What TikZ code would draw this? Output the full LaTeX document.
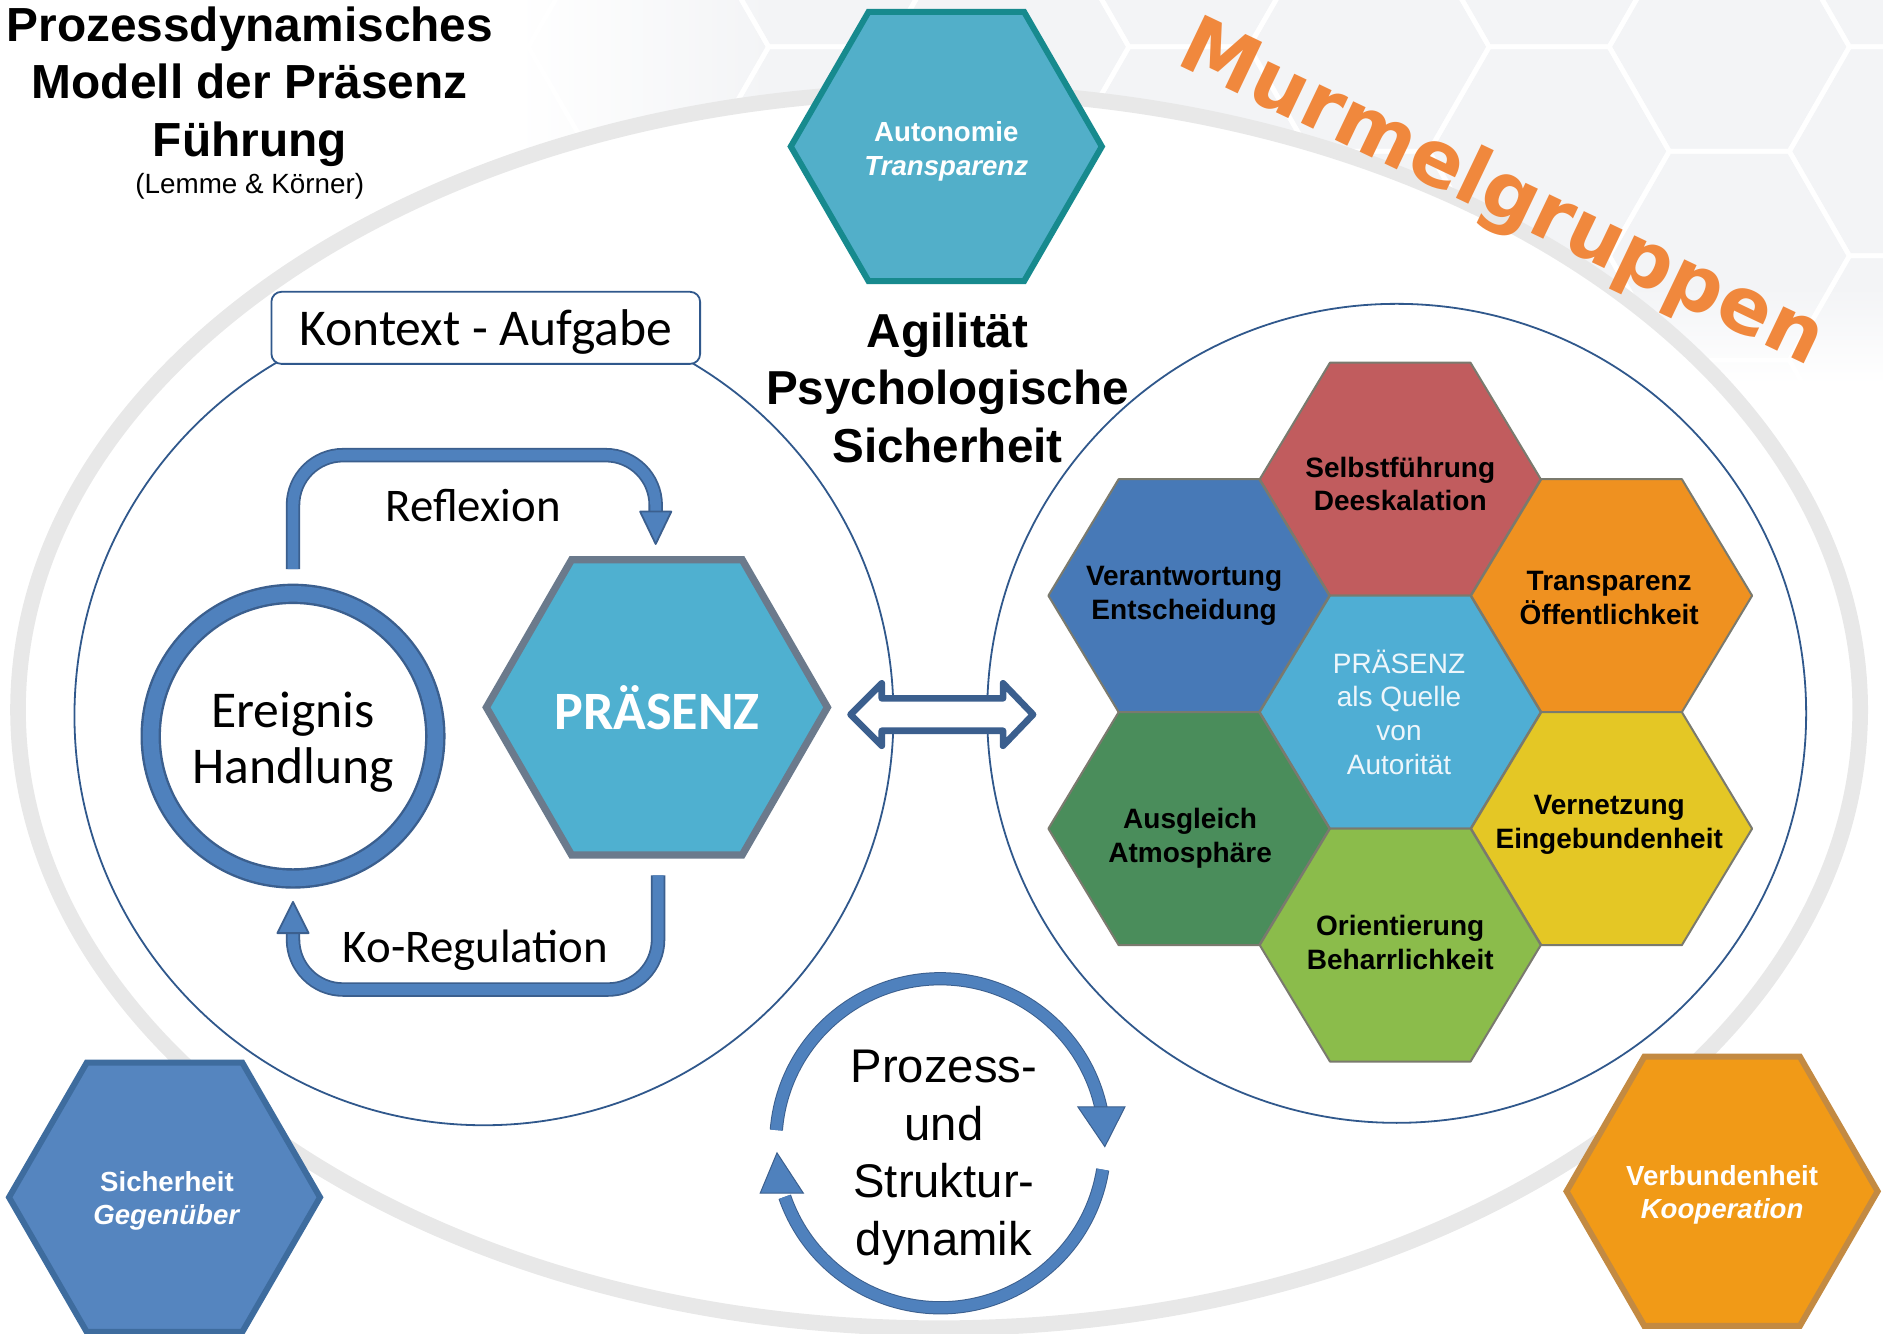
\documentclass[tikz,border=0pt]{standalone}
\usepackage{fontspec}
\setmainfont{Liberation Sans}
\newfontfamily\calibri{Carlito}
\newfontfamily\verdana{DejaVu Sans}
\usetikzlibrary{calc,shapes.geometric}

\definecolor{ringgrey}{HTML}{E8E8E8}
\definecolor{wmgrey}{HTML}{F3F4F6}
\definecolor{lineblue}{HTML}{30588C}
\definecolor{arrowdark}{HTML}{3B5F8E}
\definecolor{arrowfill}{HTML}{4F81BD}
\definecolor{praesenzfill}{HTML}{4FB0D0}
\definecolor{praesenzedge}{HTML}{6B7A8C}
\definecolor{autofill}{HTML}{52AFC9}
\definecolor{autoedge}{HTML}{178A8E}
\definecolor{sichfill}{HTML}{5585BF}
\definecolor{sichedge}{HTML}{3E6C9E}
\definecolor{verbfill}{HTML}{F19A17}
\definecolor{verbedge}{HTML}{C38A42}
\definecolor{murmel}{HTML}{F0883D}
\definecolor{hxred}{HTML}{C15C5E}
\definecolor{hxblue}{HTML}{4779B7}
\definecolor{hxorange}{HTML}{EF9120}
\definecolor{hxcenter}{HTML}{4FAED4}
\definecolor{hxgreen}{HTML}{4A8D5B}
\definecolor{hxyellow}{HTML}{E4C725}
\definecolor{hxlime}{HTML}{8BBC4B}
\definecolor{hxedge}{HTML}{7A7A6E}
\definecolor{centertext}{HTML}{EEF6FB}

\begin{document}
\begin{tikzpicture}[x=0.6pt,y=-0.6pt,
  bigcircle/.style={circle, draw=lineblue, line width=0.9pt, minimum size=409.2pt, inner sep=0pt, outer sep=0pt},
  kontextbox/.style={rectangle, rounded corners=5pt, draw=lineblue, line width=0.9pt, fill=white,
    minimum width=214.2pt, minimum height=36pt, inner sep=0pt,
    font=\calibri\fontsize{25.8}{30}\selectfont},
  eventring/.style={circle, draw=arrowdark, line width=1.2pt, double=arrowfill, double distance=7.8pt,
    fill=white, minimum size=142.2pt, inner sep=0pt, outer sep=0pt},
  bighex/.style={regular polygon, regular polygon sides=6, inner sep=0pt, outer sep=0pt},
  smallhex/.style={bighex, minimum size=155.4pt, line width=3pt},
  hextext/.style={align=center, inner sep=0pt, text=white, font=\bfseries\fontsize{13.8}{16.8}\selectfont},
  flowshaft/.style={draw=arrowdark, line width=0.9pt, double=arrowfill, double distance=5.4pt, rounded corners=25pt},
  flowhead/.style={fill=arrowfill, draw=arrowdark, line width=0.9pt, line join=round},
  cycleband/.style={draw=arrowdark, line width=0.5pt, double=arrowfill, double distance=5.6pt},
  cyclehead/.style={fill=arrowfill, draw=arrowdark, line width=0.5pt, line join=miter},
  blockarrow/.style={draw=arrowdark, line width=3.3pt, fill=white, line join=round},
  cellshape/.style={draw=hxedge, line width=1pt, line join=round},
  celltext/.style={align=center, inner sep=0pt, font=\bfseries\fontsize{14}{16.8}\selectfont},
  headline/.style={align=center, inner sep=0pt, font=\bfseries\fontsize{23.9}{28.8}\selectfont}
]
\useasboundingbox (0,0) rectangle (1568,1110);

% faint honeycomb watermark in the upper band
\shade[left color=white, right color=wmgrey] (430,0) rectangle (640,240);
\fill[wmgrey] (639,0) rectangle (1568,240);
\shade[top color=wmgrey, bottom color=white] (639,239) rectangle (1568,320);
\foreach \k in {0,...,7}{
  \pgfmathsetmacro\hx{540+150*\k}
  \pgfmathsetmacro\hy{39+87*mod(\k,2)}
  \foreach \j in {-1,0,1}{
    \draw[white, line width=2.4pt, line join=round] (\hx,\hy+174*\j) ++(-100,0) -- ++(50,-87) -- ++(100,0)
      -- ++(50,87) -- ++(-50,87) -- ++(-100,0) -- cycle;
  }
}
\fill[white] (782,591) ellipse[x radius=767, y radius=515];

% large grey orbit
\draw[ringgrey, line width=7.8pt] (782,591) ellipse[x radius=767, y radius=515];

% the two main circles
\node[bigcircle] (leftcircle) at (403,596) {};
\node[bigcircle] (rightcircle) at (1163,594) {};

\node[kontextbox] (kontext) at (404.5,273) {\raisebox{-2pt}[\height][\depth]{Kontext - Aufgabe}};

% outer hexagons
\node[smallhex, fill=autofill, draw=autoedge] (autonomie) at (788,122) {};
\node[hextext] (autonomietext) at (788,126) {Autonomie\\\textit{Transparenz}};
\node[smallhex, fill=sichfill, draw=sichedge] (sicherheit) at (137,997) {};
\node[hextext] (sicherheittext) at (139,1000) {Sicherheit\\\textit{Gegenüber}};
\node[smallhex, fill=verbfill, draw=verbedge] (verbundenheit) at (1434,992) {};
\node[hextext] (verbundenheittext) at (1434,995) {Verbundenheit\\\textit{Kooperation}};

% honeycomb of leadership dimensions
\foreach \cx/\cy/\col in {1166/399/hxred, 990/496/hxblue, 1342/496/hxorange, 1166/593/hxcenter,
                          990/690/hxgreen, 1342/690/hxyellow, 1166/787/hxlime}{
  \filldraw[cellshape, fill=\col] (\cx,\cy) ++(-117,0) -- ++(58.5,-97) -- ++(117,0)
    -- ++(58.5,97) -- ++(-58.5,97) -- ++(-117,0) -- cycle;
}
\node[celltext] (selbst) at (1166,403) {Selbstführung\\Deeskalation};
\node[celltext] (verant) at (986,496) {Verantwortung\\Entscheidung};
\node[celltext] (transp) at (1340,498) {Transparenz\\Öffentlichkeit};
\node[celltext] (ausgl) at (991,698) {Ausgleich\\Atmosphäre};
\node[celltext] (vernetz) at (1340,687) {Vernetzung\\Eingebundenheit};
\node[celltext] (orient) at (1166,785) {Orientierung\\Beharrlichkeit};
\node[celltext, font=\fontsize{14}{16.8}\selectfont, text=centertext] (quelle) at (1165,593)
  {PRÄSENZ\\als Quelle\\von\\Autorität};

% event ring and presence hexagon
\node[eventring] (ereignis) at (244,613) {};
\node[align=center, inner sep=0pt, font=\calibri\fontsize{25.8}{28.2}\selectfont] (ereignistext) at (244,618)
  {Ereignis\\Handlung};
\node[bighex, minimum size=170.4pt, fill=praesenzfill, draw=praesenzedge, line width=3.6pt,
  text=white, font=\calibri\bfseries\fontsize{27}{32}\selectfont] (praesenz) at (547,589) {PRÄSENZ};

% reflexion loop
\draw[flowshaft] ($(ereignis.center)+(0,-139)$) |- ($(praesenz.center)+(-1,-210)$) -- ($(praesenz.center)+(-1,-161)$);
\filldraw[flowhead] ($(praesenz.center)+(-14,-163)$) -- ($(praesenz.center)+(12,-163)$) -- ($(praesenz.center)+(-1,-136)$) -- cycle;
\node[font=\calibri\fontsize{23.4}{28}\selectfont, inner sep=0pt] (reflexion) at (394,421) {Reflexion};

% co-regulation loop
\draw[flowshaft] ($(praesenz.center)+(1,140)$) |- ($(ereignis.center)+(0,211)$) -- ($(ereignis.center)+(0,162)$);
\filldraw[flowhead] ($(ereignis.center)+(-13,164)$) -- ($(ereignis.center)+(13,164)$) -- ($(ereignis.center)+(0,138)$) -- cycle;
\node[font=\calibri\fontsize{23.4}{28}\selectfont, inner sep=0pt] (koreg) at (396,791) {Ko-Regulation};

% two-headed block arrow between the circles
\coordinate (dbl) at (784.25,595);
\draw[blockarrow] ($(dbl)+(-76,0)$) -- ++(26,-26) -- ++(0,12.5) -- ++(101,0) -- ++(0,-12.5)
  -- ++(25,26) -- ++(-25,26) -- ++(0,-12.5) -- ++(-101,0) -- ++(0,12.5) -- cycle;

% process and structure cycle
\coordinate (cyc) at (783,952);
\draw[cycleband] ($(cyc)+(-175.4:137)$) arc[start angle=-175.4, end angle=-11, radius=137];
\filldraw[cyclehead] ($(cyc)+(114.5,-30.4)$) -- ($(cyc)+(153.8,-30.4)$) -- ($(cyc)+(137,2.8)$) -- cycle;
\draw[cycleband] ($(cyc)+(9.2:137)$) arc[start angle=9.2, end angle=161, radius=137];
\filldraw[cyclehead] ($(cyc)+(-150,41.6)$) -- ($(cyc)+(-114,41.6)$) -- ($(cyc)+(-136,8)$) -- cycle;
\node[align=center, inner sep=0pt, font=\fontsize{23.6}{28.8}\selectfont] (prozesstext) at (786,964)
  {Prozess-\\und\\Struktur-\\dynamik};

% headings
\node[headline] (title) at (208,72) {Prozessdynamisches\\Modell der Präsenz\\Führung};
\node[inner sep=0pt, font=\fontsize{13.9}{16}\selectfont] (authors) at (208,155) {(Lemme \& Körner)};
\node[headline, font=\bfseries\fontsize{23.8}{28.8}\selectfont] (agilitaet) at (789,323)
  {Agilität\\Psychologische\\Sicherheit};
\node[text=murmel, inner sep=0pt, font=\verdana\bfseries\fontsize{39}{41}\selectfont, rotate=-25.5] (murmel)
  at (1250,163) {Murmelgruppen};
\end{tikzpicture}
\end{document}
